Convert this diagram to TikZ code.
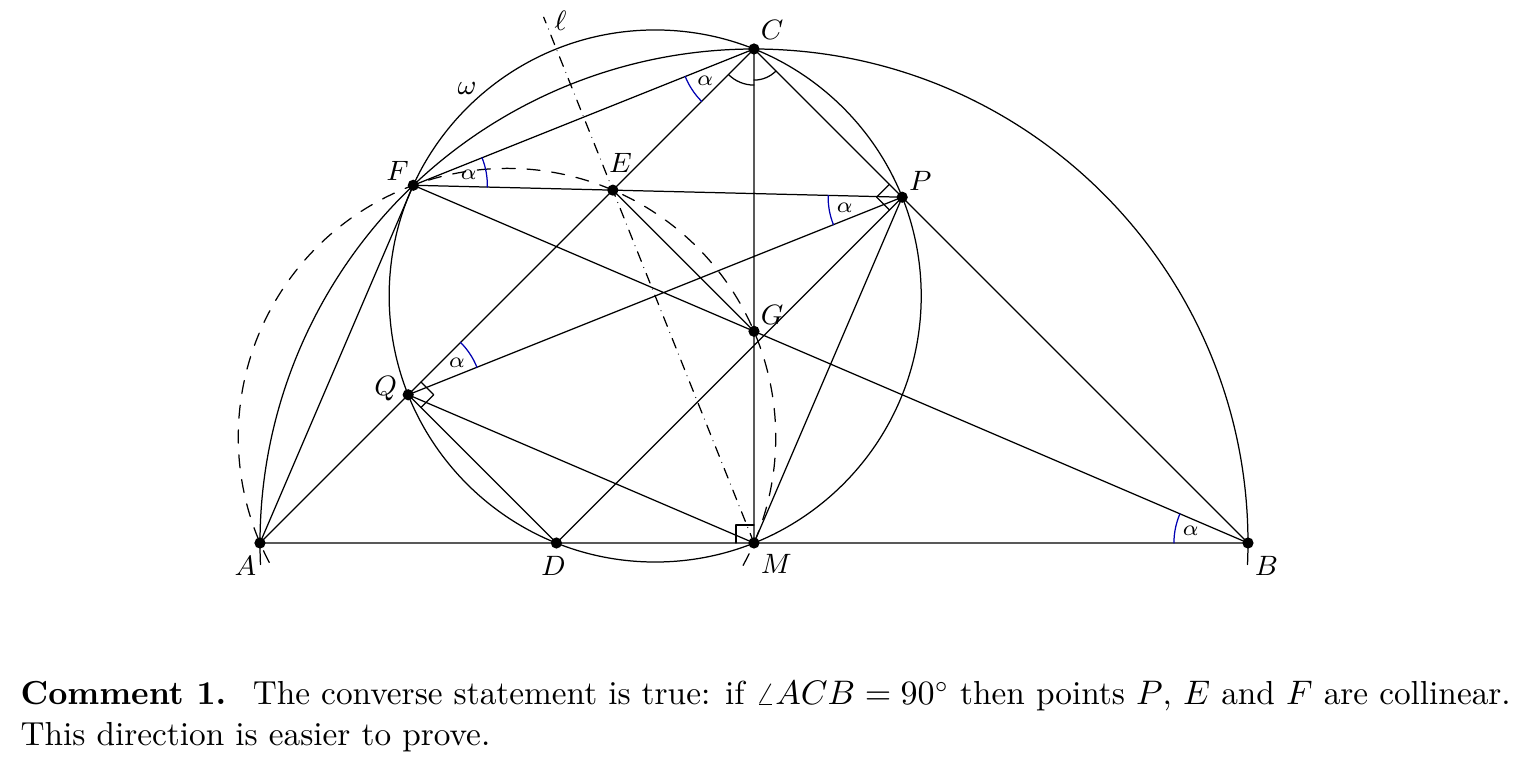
\documentclass[tikz,border=0pt]{standalone}
\usetikzlibrary{calc,angles,quotes}
\begin{document}
\begin{tikzpicture}[x=5.58cm,y=5.58cm,font=\fontsize{8.8}{10}\selectfont,line join = round, line cap = round,
	alf/.style={draw=blue!70!black,angle radius=23.8pt,angle eccentricity=0.79,font=\fontsize{7.5}{9}\selectfont},
	rang/.style={draw,angle radius=5.8pt},
	lbl/.style={inner sep=2pt},
	dashcirc/.style={dash pattern=on 4.2pt off 3.8pt},
	dotline/.style={dash pattern=on 3.3pt off 2.1pt on 0pt off 2.1pt}]
	\useasboundingbox (-1.5263,-0.4514) rectangle (1.5587,1.0992);
	\def\rw{0.53852}\def\rk{0.54398}
	\coordinate (A) at (-1,0); \coordinate (B) at (1,0); \coordinate (C) at (0,1); \coordinate (M) at (0,0);
	\coordinate (D) at (-0.4,0); \coordinate (Q) at (-0.7,0.3); \coordinate (P) at (0.3,0.7);
	\coordinate (F) at (-0.68966,0.72414); \coordinate (E) at (-0.28571,0.71429); \coordinate (G) at (0,0.42857);
	\coordinate (W) at (-0.2,0.5); \coordinate (K) at (-0.5,0.21429);
	% circles
	\draw (M) ++(-2.5:1) arc (-2.5:182.5:1);
	\draw (W) circle (\rw);
	\draw[dashcirc] (K) ++(-28.5:\rk) arc (-28.5:208.5:\rk);
	\draw[dotline] (M)--($(M)!1.49!(E)$) node[right,yshift=-1pt] (ell) {$\ell$};
	% segments
	\draw (A)--(B) (C)--(M) (A)--(C)--(B) (A)--(F)--(C) (F)--(P) (F)--(B) (Q)--(P) (Q)--(M) (Q)--(D)--(P)--(M) (E)--(G);
	% angles
	\pic[alf,"$\alpha$"] {angle=F--C--A};
	\pic[alf,"$\alpha$",angle eccentricity=0.76] {angle=P--F--C};
	\pic[alf,"$\alpha$"] {angle=F--P--Q};
	\pic[alf,"$\alpha$"] {angle=P--Q--C};
	\pic[alf,"$\alpha$"] {angle=F--B--A};
	\pic[draw,angle radius=11.6pt] {angle=A--C--M};
	\pic[draw,angle radius=10pt] {angle=M--C--B};
	\pic[rang] {right angle=C--M--A};
	\pic[rang] {right angle=C--P--D};
	\pic[rang] {right angle=D--Q--C};
	% points
	\fill (A) node[lbl,below left,xshift=1pt,yshift=-2pt] (lA) {$A$} circle (1.8pt);\fill (B) node[lbl,below right,yshift=-2pt] (lB) {$B$} circle (1.8pt);
	\fill (C) node[lbl,above right,yshift=1pt] (lC) {$C$} circle (1.8pt);\fill (D) node[lbl,below,xshift=-1pt,yshift=-2pt] (lD) {$D$} circle (1.8pt);
	\fill (E) node[above=2pt,xshift=2.5pt] (lE) {$E$} circle (1.8pt);\fill (F) node[lbl,above left,inner sep=1.3pt] (lF) {$F$} circle (1.8pt);
	\fill (G) node[lbl,above right] (lG) {$G$} circle (1.8pt);\fill (M) node[lbl,below right,yshift=-1.5pt] (lM) {$M$} circle (1.8pt);
	\fill (P) node[lbl,above right] (lP) {$P$} circle (1.8pt);\fill (Q) node[left,yshift=2pt] (lQ) {$Q$} circle (1.8pt);
	\node (om) at (-0.581,0.921) {$\omega$};
	\node[anchor=base west,align=left,inner sep=0pt,font=\fontsize{10.7}{13.2}\selectfont] (cmt) at (-1.4858,-0.4109)
	{\textbf{Comment 1.}\hspace{8.5pt}The converse statement is true: if $\angle ACB=90^\circ$ then points $P$, $E$ and $F$ are collinear.\\
	This direction is easier to prove.};
\end{tikzpicture}
\end{document}
